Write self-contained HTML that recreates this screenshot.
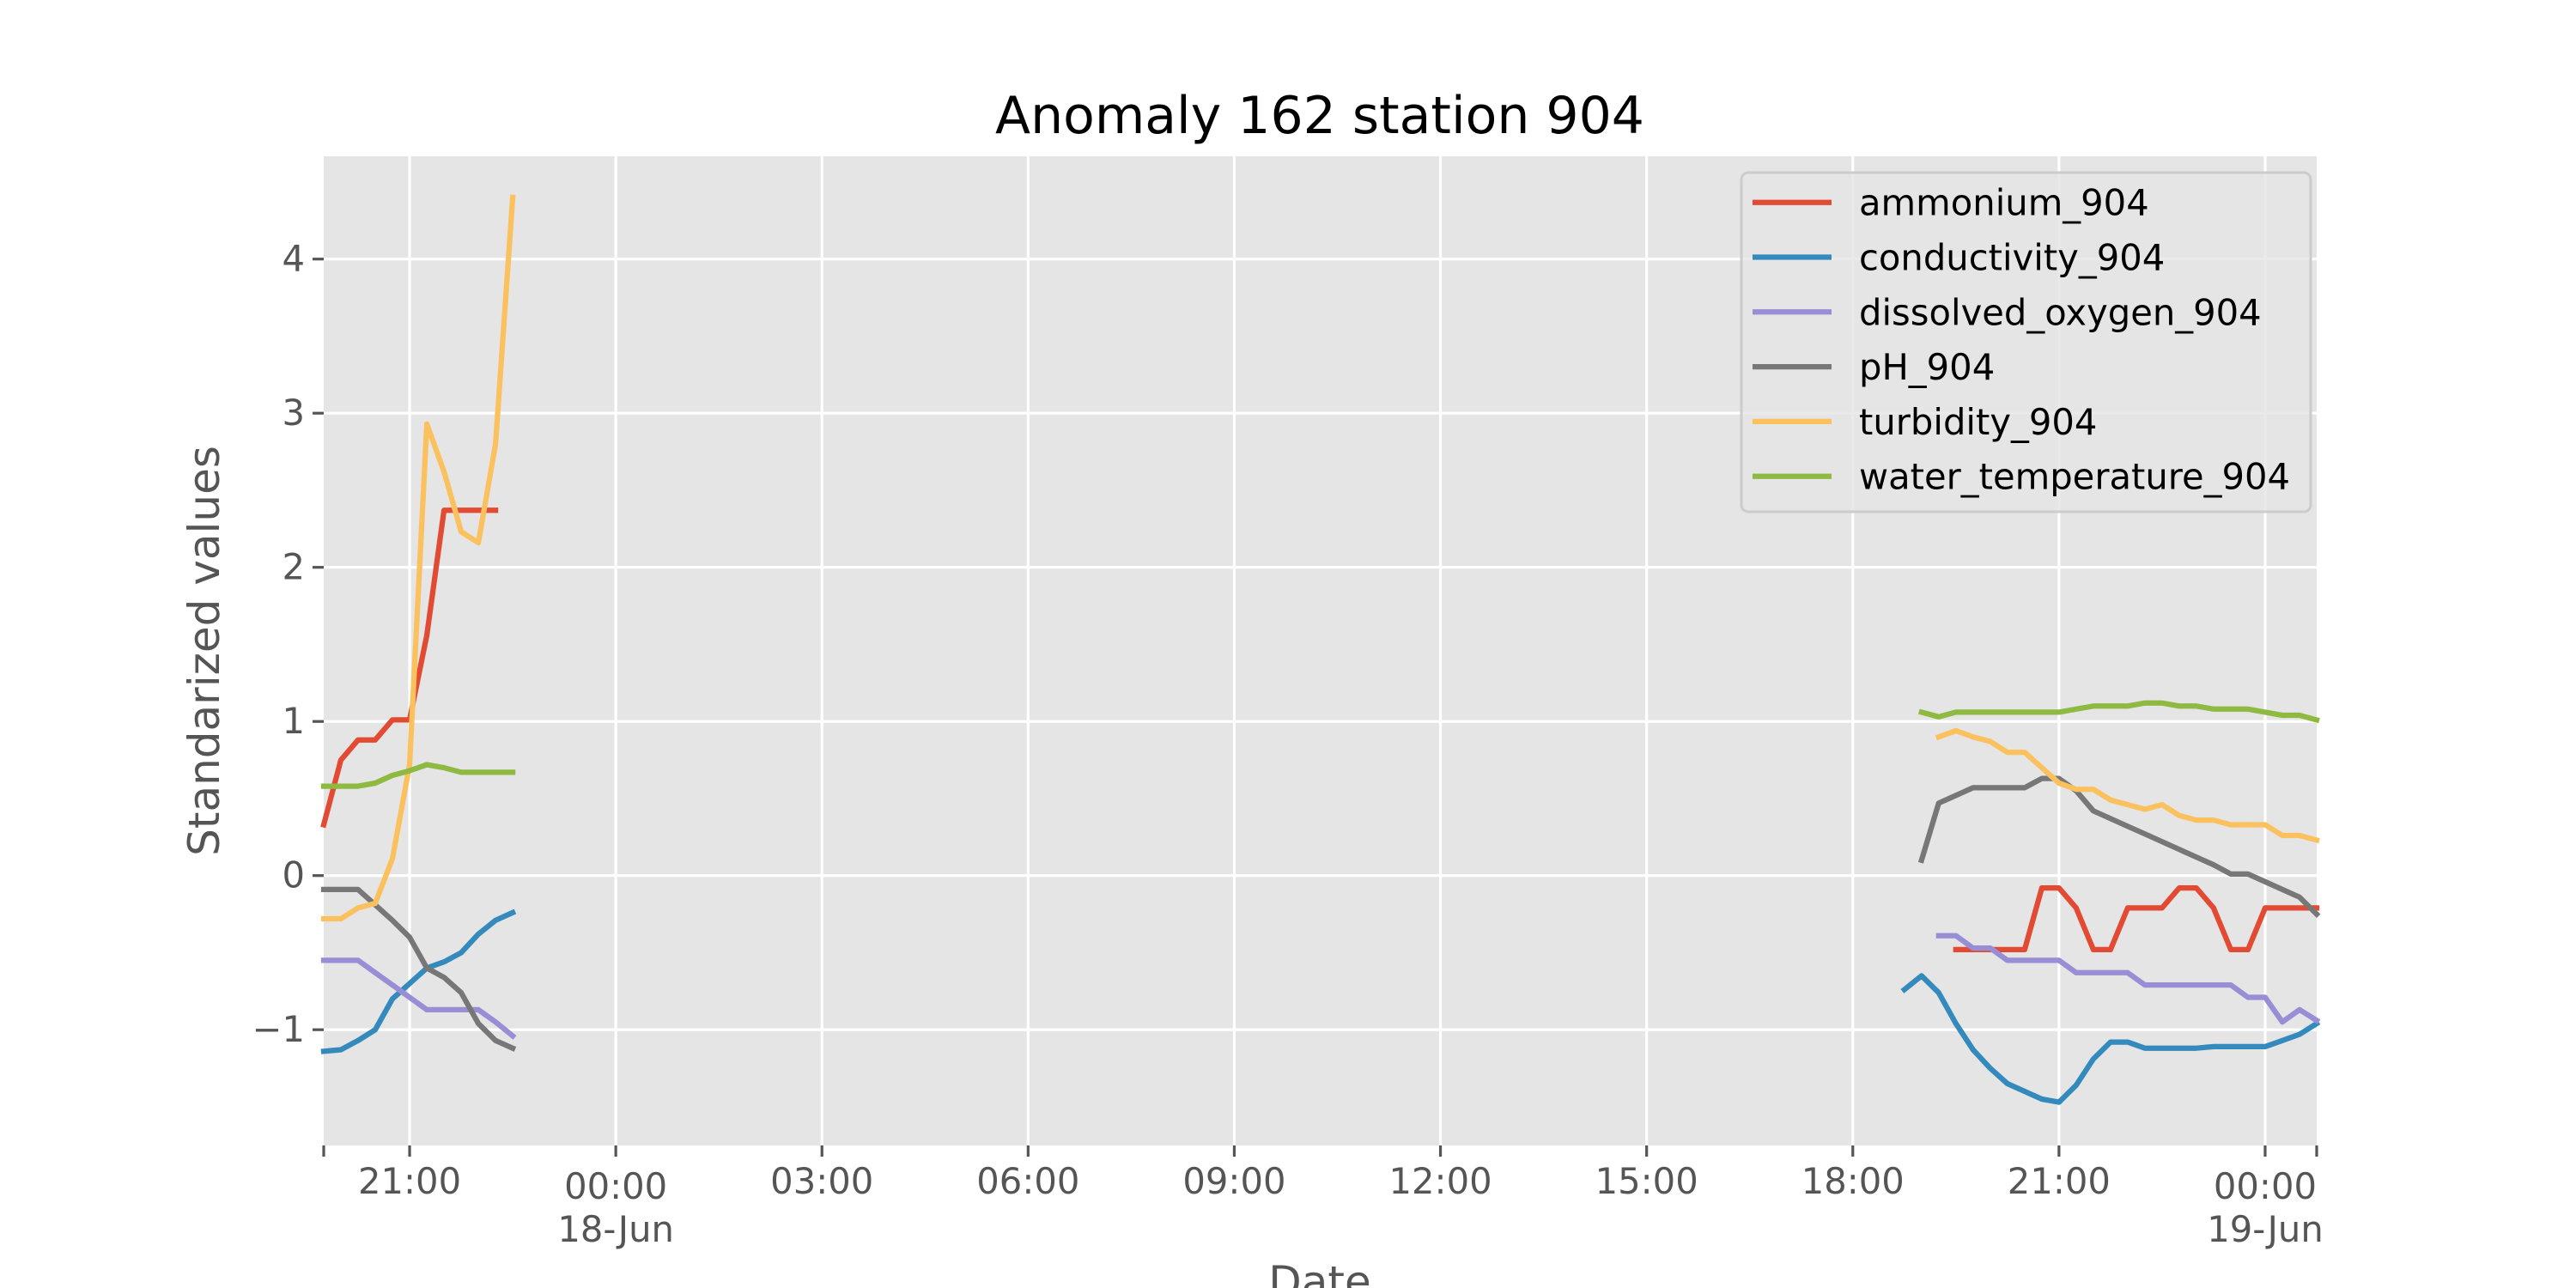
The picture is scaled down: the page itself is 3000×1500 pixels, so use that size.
<!DOCTYPE html>
<html><head><meta charset="utf-8"><style>
html,body{margin:0;padding:0;background:#fff;}
svg{display:block;font-family:"DejaVu Sans","Liberation Sans",sans-serif;}
</style></head><body>
<svg id="chart" width="3000" height="1500" viewBox="0 0 3000 1500">
<rect x="0" y="0" width="3000" height="1500" fill="#ffffff"/>
<rect x="377" y="182" width="2321" height="1152" fill="#E5E5E5"/>
<g id="grid"></g>
<g id="series"></g>
<g id="axes"></g>
<text x="1537" y="155" font-size="60" text-anchor="middle" fill="#000">Anomaly 162 station 904</text>
<text transform="translate(255,758) rotate(-90)" font-size="50" text-anchor="middle" fill="#555">Standarized values</text>
<text x="1537" y="1510" font-size="50" text-anchor="middle" fill="#555">Date</text>
<g id="legend"></g>
</svg>
<script>
// time in hours from 17-Jun 00:00
const timesLeft = [19.75,20,20.25,20.5,20.75,21,21.25,21.5,21.75,22,22.25,22.5];
const timesRight = [42.75,43,43.25,43.5,43.75,44,44.25,44.5,44.75,45,45.25,45.5,45.75,46,46.25,46.5,46.75,47,47.25,47.5,47.75,48,48.25,48.5,48.75];
const seriesNames = ["ammonium_904","conductivity_904","dissolved_oxygen_904","pH_904","turbidity_904","water_temperature_904"];
const seriesColors = ["#E24A33","#348ABD","#988ED5","#777777","#FBC15E","#8EBA42"];
const ammoniumLeft = [0.33,0.75,0.88,0.88,1.01,1.01,1.56,2.37,2.37,2.37,2.37,null];
const ammoniumRight = [null,null,null,-0.48,-0.48,-0.48,-0.48,-0.48,-0.08,-0.08,-0.21,-0.48,-0.48,-0.21,-0.21,-0.21,-0.08,-0.08,-0.21,-0.48,-0.48,-0.21,-0.21,-0.21,-0.21];
const conductivityLeft = [-1.14,-1.13,-1.07,-1.00,-0.80,-0.70,-0.60,-0.56,-0.50,-0.38,-0.29,-0.24];
const conductivityRight = [-0.74,-0.65,-0.76,-0.96,-1.13,-1.25,-1.35,-1.40,-1.45,-1.47,-1.36,-1.19,-1.08,-1.08,-1.12,-1.12,-1.12,-1.12,-1.11,-1.11,-1.11,-1.11,-1.07,-1.03,-0.96];
const oxygenLeft = [-0.55,-0.55,-0.55,-0.63,-0.71,-0.79,-0.87,-0.87,-0.87,-0.87,-0.95,-1.04];
const oxygenRight = [null,null,-0.39,-0.39,-0.47,-0.47,-0.55,-0.55,-0.55,-0.55,-0.63,-0.63,-0.63,-0.63,-0.71,-0.71,-0.71,-0.71,-0.71,-0.71,-0.79,-0.79,-0.95,-0.87,-0.94];
const phLeft = [-0.09,-0.09,-0.09,-0.19,-0.29,-0.40,-0.60,-0.66,-0.76,-0.96,-1.07,-1.12];
const phRight = [null,0.10,0.47,0.52,0.57,0.57,0.57,0.57,0.63,0.63,0.55,0.42,0.37,0.32,0.27,0.22,0.17,0.12,0.07,0.01,0.01,-0.04,-0.09,-0.14,-0.25];
const turbidityLeft = [-0.28,-0.28,-0.21,-0.18,0.11,0.72,2.93,2.62,2.23,2.16,2.80,4.40];
const turbidityRight = [null,null,0.90,0.94,0.90,0.87,0.80,0.80,0.70,0.60,0.56,0.56,0.49,0.46,0.43,0.46,0.39,0.36,0.36,0.33,0.33,0.33,0.26,0.26,0.23];
const temperatureLeft = [0.58,0.58,0.58,0.60,0.65,0.68,0.72,0.70,0.67,0.67,0.67,0.67];
const temperatureRight = [null,1.06,1.03,1.06,1.06,1.06,1.06,1.06,1.06,1.06,1.08,1.10,1.10,1.10,1.12,1.12,1.10,1.10,1.08,1.08,1.08,1.06,1.04,1.04,1.01];
const yTicks = [-1,0,1,2,3,4];
const xTickHours = [21,24,27,30,33,36,39,42,45,48];
const xTickLabels = ["21:00","00:00","03:00","06:00","09:00","12:00","15:00","18:00","21:00","00:00"];
const xTickSub = ["","18-Jun","","","","","","","","19-Jun"];

const NS="http://www.w3.org/2000/svg";
const X0=377,X1=2698,XMIN=19.75,XMAX=48.75;
function xs(h){return X0+(h-XMIN)/(XMAX-XMIN)*(X1-X0);}
function ys(v){return 1019.7-v*179.5;}
function mk(tag,attrs,parent){const e=document.createElementNS(NS,tag);for(const k in attrs)e.setAttribute(k,attrs[k]);parent.appendChild(e);return e;}
const grid=document.getElementById('grid'),axes=document.getElementById('axes'),ser=document.getElementById('series'),leg=document.getElementById('legend');
yTicks.forEach(v=>{
  const y=ys(v);
  const g=mk('line',{x1:X0,x2:X1,y1:y,y2:y,stroke:'#fff','stroke-width':3.2},grid);
  
  
  const t=mk('line',{x1:X0-13,x2:X0,y1:y,y2:y,stroke:'#555','stroke-width':3.2},axes);
  
  
  const l=mk('text',{x:X0-22,y:y+14,'font-size':41.7,'text-anchor':'end',fill:'#555'},axes);
  l.textContent=(v<0?'\u2212'+Math.abs(v):String(v));
  
  
});
xTickHours.forEach((h,i)=>{
  const x=xs(h);
  const g=mk('line',{x1:x,x2:x,y1:182,y2:1334,stroke:'#fff','stroke-width':3.2},grid);
  
  
  const t=mk('line',{x1:x,x2:x,y1:1334,y2:1347,stroke:'#555','stroke-width':3.2},axes);
  
  
  const l=mk('text',{x:x,y:xTickSub[i]?1396:1390,'font-size':41.7,'text-anchor':'middle',fill:'#555'},axes);
  l.textContent=xTickLabels[i];
  
  
  if(xTickSub[i]){
    const s=mk('text',{x:x,y:1446,'font-size':41.7,'text-anchor':'middle',fill:'#555'},axes);
    s.textContent=xTickSub[i];
    
    
  }
});
[X0,X1].forEach(x=>{
  const t=mk('line',{x1:x,x2:x,y1:1334,y2:1347,stroke:'#555','stroke-width':3.2},axes);
  
  
});
const allSeries=[[ammoniumLeft,ammoniumRight],[conductivityLeft,conductivityRight],[oxygenLeft,oxygenRight],[phLeft,phRight],[turbidityLeft,turbidityRight],[temperatureLeft,temperatureRight]];
allSeries.forEach((pair,si)=>{
  [[timesLeft,pair[0]],[timesRight,pair[1]]].forEach(([ts,vals])=>{
    let d='',pen=false;
    vals.forEach((v,i)=>{
      if(v===null){pen=false;return;}
      d+=(pen?'L':'M')+xs(ts[i]).toFixed(1)+' '+ys(v).toFixed(1)+' ';pen=true;
    });
    const p=mk('path',{d:d,fill:'none',stroke:seriesColors[si],'stroke-width':6.25,'stroke-linejoin':'round','stroke-linecap':'square'},ser);
    
    
  });
});
const box=mk('rect',{x:2028,y:201,width:663,height:395,rx:8,fill:'#E5E5E5','fill-opacity':0.8,stroke:'#cccccc','stroke-width':3},leg);


seriesNames.forEach((n,i)=>{
  const y=235.7+i*63.8;
  const ln=mk('line',{x1:2041,x2:2133,y1:y,y2:y,stroke:seriesColors[i],'stroke-width':6.25},leg);
  
  
  const t=mk('text',{x:2165,y:y+15,'font-size':41.7,fill:'#000'},leg);
  t.textContent=n;
  
  
});
</script>
</body></html>
